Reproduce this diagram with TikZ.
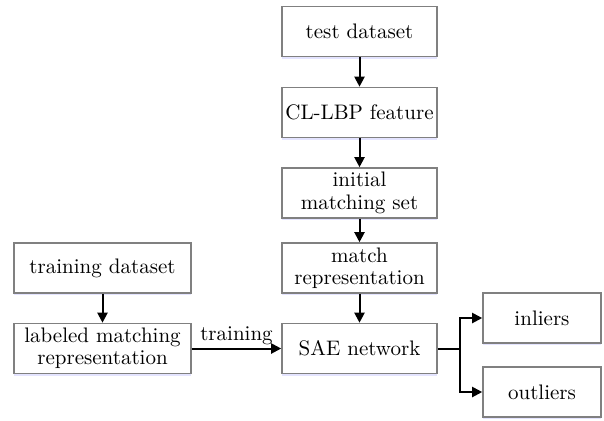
\documentclass[tikz,border=0pt]{standalone}
\usepackage{tikz}
\usetikzlibrary{arrows.meta,shadows}

\tikzset{
  box/.style={draw=black!50, line width=0.8pt, fill=white, align=center,
    minimum width=77.5pt, minimum height=25pt, inner sep=1pt,
    font=\fontsize{10.5}{11.2}\selectfont,
    drop shadow={shadow xshift=0pt, shadow yshift=-1.2pt, fill=blue!30, opacity=0.35}},
  flow/.style={-{Triangle[length=5pt,width=5pt]}, line width=1pt}
}

\begin{document}
\begin{tikzpicture}[x=0.5pt,y=-0.5pt]
  \useasboundingbox (0,0) rectangle (604,420);
  % test, CL-LBP, initial, match, SAE
  \foreach \c/\t [count=\i from 1] in {
      {(359.5,31.5)}/{test dataset},
      {(359.5,112.5)}/{CL-LBP feature},
      {(359.5,193)}/{initial\\matching set},
      {(359.5,268)}/{match\\representation},
      {(359.5,348.5)}/{SAE network}}
    {\node[box] (m\i) at \c {\t};}
  \node[box, minimum width=88.5pt] (train) at (102.5,268) {training dataset};
  \node[box, minimum width=88.5pt] (label) at (102.5,348.5) {labeled matching\\representation};
  \node[box, minimum width=59pt] (in) at (542,318) {inliers};
  \node[box, minimum width=59pt] (out) at (542,392) {outliers};
  \foreach \i [evaluate=\i as \j using int(\i+1)] in {1,...,4}
    {\draw[flow] (m\i) -- (m\j);}
  \draw[flow] (train) -- (label);
  \draw[flow] (label) -- node[above, font=\fontsize{10.5}{11.2}\selectfont, inner sep=1.5pt] {training} (m5);
  \coordinate (split) at (460,348.5);
  \draw[line width=1pt] (m5) -- (split);
  \draw[flow] (split) |- (in);
  \draw[flow] (split) |- (out);
\end{tikzpicture}
\end{document}
